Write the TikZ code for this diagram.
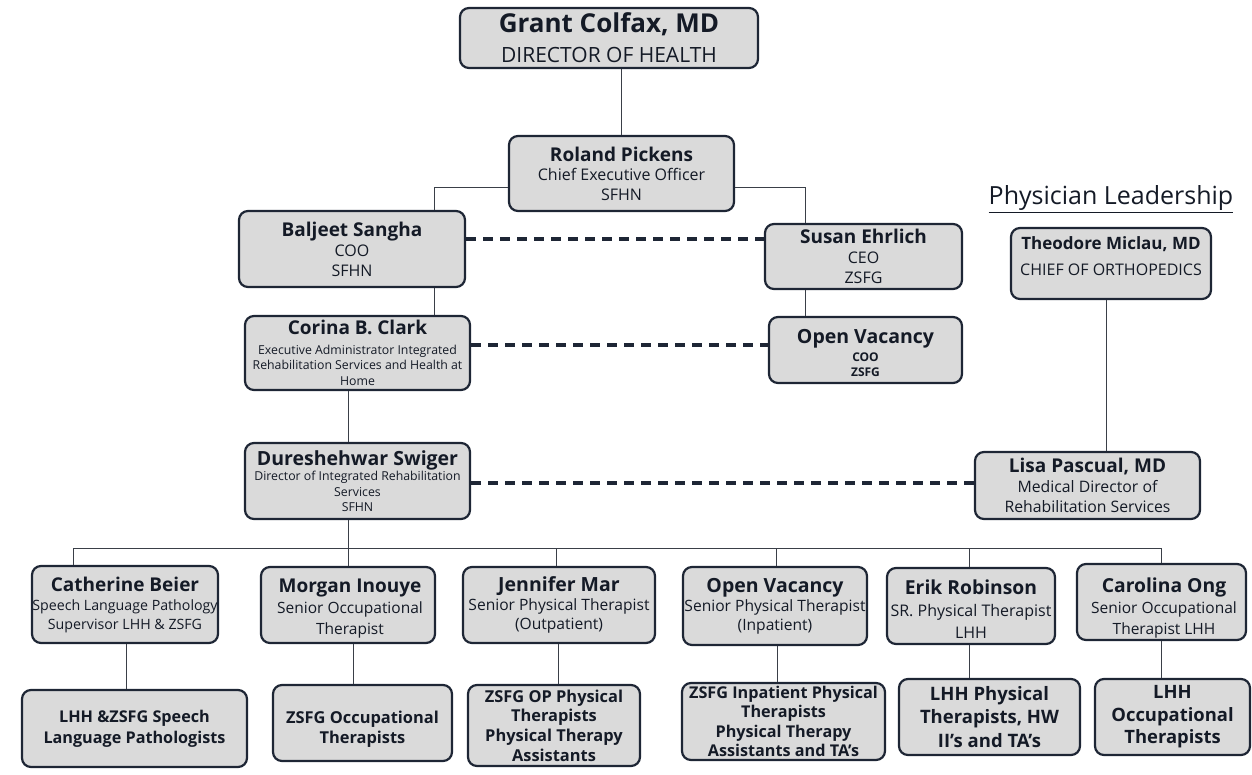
\documentclass[tikz,border=0pt]{standalone}
\usepackage{fontspec}
\setmainfont{Open Sans}
\definecolor{boxfill}{HTML}{DADADA}
\definecolor{boxline}{HTML}{1E2635}
\definecolor{txt}{HTML}{141A26}
\definecolor{conn}{HTML}{3A3F48}
\newcommand\fs[1]{\fontsize{#1}{\baselineskip}\selectfont}
\newcommand\bs[1]{\fontsize{14}{#1}\selectfont}
\tikzset{
  box/.style={draw=boxline, line width=2.2pt, fill=boxfill, rounded corners=9pt,
    align=center, inner sep=0pt, text=txt},
  boxtext/.style={align=center, inner sep=0pt, text=txt},
  conline/.style={draw=conn, line width=0.9pt},
  dashline/.style={draw=boxline, line width=3.6pt, dash pattern=on 10pt off 7pt}
}
\begin{document}
\begin{tikzpicture}[x=1pt,y=-1pt]
\useasboundingbox (0,0) rectangle (1252,774);
% top level
\node[box, font=\bs{30}, minimum width=298pt, minimum height=60pt] (grant) at (609,38)
  {\fs{26}\bfseries Grant Colfax, MD\\\fs{21}DIRECTOR OF HEALTH};
\node[box, font=\bs{19.5}, minimum width=225pt, minimum height=75pt] (roland) at (621.5,173.5)
  {\fs{19}\bfseries Roland Pickens\\\fs{16}Chief Executive Officer\\\fs{16}SFHN};
\node[box, font=\bs{20}, minimum width=226pt, minimum height=76pt] (baljeet) at (352,249)
  {\fs{19}\bfseries Baljeet Sangha\\\fs{16}COO\\\fs{16}SFHN};
\node[box, font=\bs{20}, minimum width=197pt, minimum height=65pt] (susan) at (863.5,256.5)
  {\fs{19}\bfseries Susan Ehrlich\\\fs{16}CEO\\\fs{16}ZSFG};
\node[box, font=\bs{15.5}, minimum width=225pt, minimum height=74pt] (corina) at (357.5,353)
  {\fs{19}\bfseries Corina B. Clark\\[4pt]\fs{12.3}Executive Administrator Integrated\\\fs{12.3}Rehabilitation Services and Health at\\\fs{12.3}Home};
\node[box, minimum width=193pt, minimum height=66pt] (ovc) at (865.5,350) {};
\node[boxtext, font=\bs{15}] (ovctxt) at (865.5,353)
  {\fs{19.5}\bfseries Open Vacancy\\[3pt]\fs{12}\bfseries COO\\\fs{12}\bfseries ZSFG};
\node[font=\fontsize{25}{30}\selectfont, text=txt] (phys) at (1111,199) {\underline{Physician Leadership}};
\node[box, minimum width=200pt, minimum height=71pt] (theo) at (1111,263.5) {};
\node[boxtext, font=\bs{26}] (theotxt) at (1111,256)
  {\fs{17}\bfseries Theodore Miclau, MD\\\fs{16}CHIEF OF ORTHOPEDICS};
\node[box, font=\bs{15.5}, minimum width=225pt, minimum height=76pt] (dure) at (357.5,481)
  {\fs{19.5}\bfseries Dureshehwar Swiger\\\fs{12.3}Director of Integrated Rehabilitation\\\fs{12.3}Services\\\fs{12.3}SFHN};
\node[box, font=\bs{20}, minimum width=225pt, minimum height=67pt] (lisa) at (1087.5,485.5)
  {\fs{19}\bfseries Lisa Pascual, MD\\\fs{15.8}Medical Director of\\\fs{15.8}Rehabilitation Services};
% second row
\node[box, font=\bs{19}, minimum width=186pt, minimum height=77pt] (cath) at (125,604.5)
  {\fs{19}\bfseries Catherine Beier\\\fs{14.2}Speech Language Pathology\\\fs{14.2}Supervisor LHH \& ZSFG};
\node[box, minimum width=174pt, minimum height=76pt] (morgan) at (348,605) {};
\node[boxtext, font=\bs{21}] (morgantxt) at (350,609)
  {\fs{19}\bfseries Morgan Inouye\\\fs{15.5}Senior Occupational\\\fs{15.5}Therapist};
\node[box, font=\bs{19}, minimum width=192pt, minimum height=76pt] (jen) at (559,605)
  {\fs{19.5}\bfseries Jennifer Mar\\\fs{15.6}Senior Physical Therapist\\\fs{15.6}(Outpatient)};
\node[box, font=\bs{19}, minimum width=184pt, minimum height=78pt] (ov2) at (775,606)
  {\fs{19.5}\bfseries Open Vacancy\\\fs{15.6}Senior Physical Therapist\\\fs{15.6}(Inpatient)};
\node[box, minimum width=168pt, minimum height=76pt] (erik) at (971,606) {};
\node[boxtext, font=\bs{22}] (eriktxt) at (971,609)
  {\fs{19.3}\bfseries Erik Robinson\\\fs{16}SR. Physical Therapist\\\fs{16}LHH};
\node[box, minimum width=169pt, minimum height=76pt] (carol) at (1161.5,602) {};
\node[boxtext, font=\bs{21}] (caroltxt) at (1164,608)
  {\fs{19.3}\bfseries Carolina Ong\\\fs{15.5}Senior Occupational\\\fs{15.5}Therapist LHH};
% third row
\node[box, font=\bs{21}, minimum width=225pt, minimum height=77pt] (g1) at (134.5,728.5)
  {\fs{16.2}\bfseries LHH \&ZSFG Speech\\\fs{16.2}\bfseries Language Pathologists};
\node[box, minimum width=179pt, minimum height=76pt] (g2) at (362.5,723) {};
\node[boxtext, font=\bs{20}] (g2txt) at (362.5,729)
  {\fs{16.4}\bfseries ZSFG Occupational\\\fs{16.4}\bfseries Therapists};
\node[box, font=\bs{19.7}, minimum width=172pt, minimum height=81pt] (g3) at (554,725.5)
  {\fs{16.4}\bfseries ZSFG OP Physical\\\fs{16.4}\bfseries Therapists\\\fs{16.4}\bfseries Physical Therapy\\\fs{16.4}\bfseries Assistants};
\node[box, font=\bs{19.3}, minimum width=203pt, minimum height=77pt] (g4) at (783.5,721.5)
  {\fs{16.2}\bfseries ZSFG Inpatient Physical\\\fs{16.2}\bfseries Therapists\\\fs{16.2}\bfseries Physical Therapy\\\fs{16.2}\bfseries Assistants and TA's};
\node[box, font=\bs{23.5}, minimum width=181pt, minimum height=76pt] (g5) at (989.5,717)
  {\fs{18.5}\bfseries LHH Physical\\\fs{18.5}\bfseries Therapists, HW\\\fs{18.5}\bfseries II's and TA's};
\node[box, font=\bs{22.5}, minimum width=155pt, minimum height=76pt] (g6) at (1172.5,717)
  {\fs{18.4}\bfseries LHH\\\fs{18.4}\bfseries Occupational\\\fs{18.4}\bfseries Therapists};
% connectors
\draw[conline] (roland.north) -- (roland.north |- grant.south);
\coordinate (rl) at ([yshift=-13.5pt]roland.west);
\coordinate (rr) at ([yshift=-13.5pt]roland.east);
\draw[conline] (rl) -| ([xshift=82pt]baljeet.north);
\draw[conline] (rr) -| ([xshift=-58.5pt]susan.north);
\coordinate (bs) at ([xshift=82pt]baljeet.south);
\draw[conline] (bs) -- (bs |- corina.north);
\coordinate (ss) at ([xshift=-58.5pt]susan.south);
\draw[conline] (ss) -- (ss |- ovc.north);
\coordinate (cs) at ([xshift=-9.5pt]corina.south);
\draw[conline] (cs) -- (cs |- dure.north);
\coordinate (ts) at ([xshift=-5pt]theo.south);
\draw[conline] (ts) -- (ts |- lisa.north);
\coordinate (d1) at ([yshift=10pt]baljeet.east);
\draw[dashline] (d1) -- (d1 -| susan.west);
\coordinate (d2) at ([yshift=8pt]corina.east);
\draw[dashline] (d2) -- (d2 -| ovc.west);
\coordinate (d3) at ([yshift=-2pt]dure.east);
\draw[dashline] (d3) -- (d3 -| lisa.west);
\coordinate (ds) at ([xshift=-9.5pt]dure.south);
\coordinate (bus) at ([yshift=-28pt]ds);
\draw[conline] (ds) -- (bus);
\draw[conline] (bus) -| ([xshift=-52pt]cath.north);
\draw[conline] (bus) -| (morgan.north);
\draw[conline] (bus) -| ([xshift=-3pt]jen.north);
\draw[conline] (bus) -| ([xshift=1pt]ov2.north);
\draw[conline] (bus) -| ([xshift=-2pt]erik.north);
\draw[conline] (bus) -| (carol.north);
\draw[conline] ([xshift=1pt]cath.south) -- ([xshift=1pt]cath.south |- g1.north);
\draw[conline] ([xshift=5pt]morgan.south) -- ([xshift=5pt]morgan.south |- g2.north);
\draw[conline] ([xshift=-1pt]jen.south) -- ([xshift=-1pt]jen.south |- g3.north);
\draw[conline] ([xshift=2pt]ov2.south) -- ([xshift=2pt]ov2.south |- g4.north);
\draw[conline] ([xshift=-2pt]erik.south) -- ([xshift=-2pt]erik.south |- g5.north);
\draw[conline] (carol.south) -- (carol.south |- g6.north);
\end{tikzpicture}
\end{document}
